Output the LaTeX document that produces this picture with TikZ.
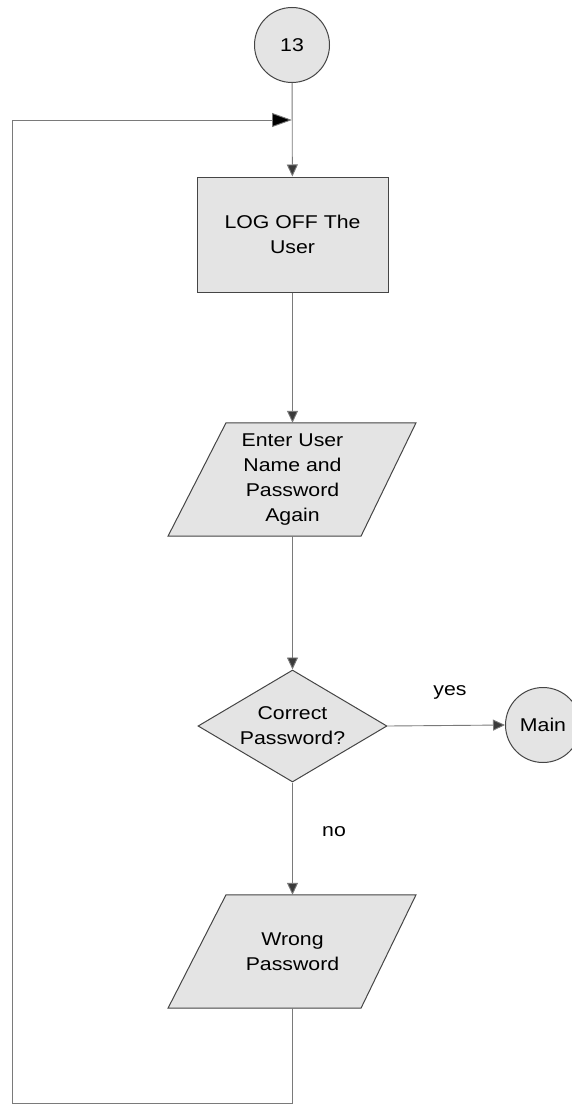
\documentclass[tikz,border=0pt]{standalone}
\usepackage{fontspec}
\setmainfont{Liberation Sans}[FakeStretch=1.15]
\usetikzlibrary{shapes.geometric,arrows.meta,calc}
\definecolor{shapefill}{HTML}{E4E4E4}
\definecolor{shapeline}{HTML}{454545}
\definecolor{connline}{HTML}{7A7A7A}
\definecolor{tipcol}{HTML}{3A3A3A}
\tikzset{
  lbl/.style={font=\fontsize{18.5}{25}\selectfont, align=center, text=black},
  box/.style={lbl, draw=shapeline, fill=shapefill, line width=1pt},
  circ/.style={box, circle, minimum size=75pt, inner sep=0pt},
  rectbox/.style={box, rectangle, minimum width=191pt, minimum height=115pt, inner sep=0pt},
  decision/.style={box, diamond, minimum width=189pt, minimum height=112pt, inner sep=0pt, aspect=1.69},
  paraanchor/.style={lbl, rectangle, minimum width=190pt, minimum height=113pt, inner sep=0pt},
  conn/.style={draw=connline, line width=0.9pt, -{Triangle[length=12pt,width=11pt,fill=tipcol]}},
  plain/.style={draw=connline, line width=0.9pt},
  looptip/.style={draw=connline, line width=0.9pt, -{Triangle[length=20pt,width=14pt,fill=black]}},
}
\newcommand{\paragram}[1]{%
  \path[draw=shapeline, fill=shapefill, line width=1pt]
    ($(#1.north)+(-66.5,0)$) -- ($(#1.north)+(123.5,0)$) --
    ($(#1.south)+(68.5,0)$) -- ($(#1.south)+(-124.5,0)$) -- cycle;}
\begin{document}
\begin{tikzpicture}[x=1pt,y=-1pt]
\useasboundingbox (0,0) rectangle (572,1105);
% nodes
\node[circ] (c13) at (292,45) {13};
\coordinate (j) at (292,120);
\node[rectbox] (logoff) at (292.5,234.5) {LOG OFF The\\User};
\node[paraanchor] (p1) at (292.5,479.5) {};
\paragram{p1}
\node[lbl] (p1t) at (p1.center) {Enter User\\Name and\\Password\\Again};
\node[decision] (dec) at (292.5,726) {Correct\\Password?};
\node[circ] (main) at (543,725) {Main};
\node[paraanchor] (p2) at (292.5,951.5) {};
\paragram{p2}
\node[lbl] (p2t) at (p2.center) {Wrong\\Password};
\node[lbl] (yes) at (450,692) {yes};
\node[lbl] (no) at (334,832) {no};
\coordinate (lb) at (12,1103);
% connectors
\draw[conn] (c13) -- (logoff);
\draw[conn] (logoff.south -| p1.north) -- (p1.north);
\draw[conn] (p1.south) -- (dec.north);
\draw[conn] (dec.east) -- (main.west);
\draw[conn] (dec.south) -- (p2.north);
\draw[plain] (p2.south) -- (p2.south |- lb) -- (lb) -- (lb |- j);
\draw[looptip] (lb |- j) -- (j);
\end{tikzpicture}
\end{document}
